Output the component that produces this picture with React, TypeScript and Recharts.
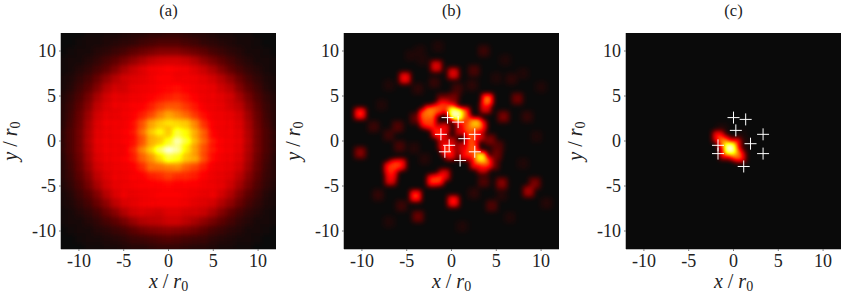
import { Scatter, ScatterChart, XAxis, YAxis } from "recharts";

const TICKS = [-10, -5, 0, 5, 10];
const GRID_X = [-12, -11, -10, -9, -8, -7, -6, -5, -4, -3, -2, -1, 0, 1, 2, 3, 4, 5, 6, 7, 8, 9, 10, 11, 12];
const GRID_Y = [...GRID_X].reverse();

// panel (a), percent of full scale, top row first
const AVERAGE_ROWS = [
  [0, 0, 0, 1, 1, 2, 2, 3, 4, 4, 5, 5, 6, 6, 5, 4, 4, 3, 2, 2, 1, 1, 0, 0, 0],
  [0, 0, 1, 2, 2, 3, 4, 5, 6, 8, 9, 10, 10, 10, 9, 8, 6, 5, 4, 3, 2, 2, 1, 0, 0],
  [0, 1, 2, 2, 4, 5, 7, 9, 12, 14, 16, 18, 18, 18, 16, 14, 12, 9, 7, 5, 4, 2, 2, 1, 0],
  [1, 2, 2, 4, 6, 9, 12, 16, 20, 24, 28, 30, 31, 31, 29, 25, 20, 16, 12, 9, 6, 4, 2, 2, 1],
  [1, 2, 4, 6, 9, 13, 18, 24, 29, 33, 36, 37, 38, 37, 36, 33, 29, 24, 18, 13, 9, 6, 4, 2, 1],
  [2, 3, 6, 9, 14, 20, 26, 31, 33, 34, 36, 38, 38, 36, 37, 36, 34, 31, 26, 20, 14, 9, 6, 3, 2],
  [2, 4, 8, 12, 18, 26, 31, 31, 35, 36, 37, 38, 39, 40, 38, 37, 36, 35, 30, 26, 18, 12, 8, 4, 2],
  [3, 6, 10, 16, 24, 31, 35, 34, 36, 37, 38, 40, 42, 44, 41, 38, 36, 36, 34, 31, 23, 16, 10, 6, 3],
  [4, 7, 12, 19, 28, 33, 36, 36, 38, 38, 42, 47, 50, 50, 46, 41, 37, 36, 35, 31, 27, 19, 12, 7, 4],
  [4, 8, 14, 22, 31, 35, 35, 37, 38, 42, 48, 56, 62, 58, 53, 46, 40, 37, 36, 35, 31, 22, 14, 8, 4],
  [4, 9, 15, 24, 33, 37, 37, 37, 40, 50, 62, 68, 72, 70, 68, 58, 45, 38, 37, 36, 33, 24, 15, 9, 4],
  [5, 10, 16, 25, 34, 36, 37, 38, 41, 54, 68, 76, 68, 82, 76, 64, 52, 39, 37, 37, 34, 25, 16, 10, 5],
  [5, 10, 16, 26, 35, 37, 37, 38, 40, 50, 64, 68, 78, 94, 82, 66, 54, 42, 38, 37, 35, 26, 16, 10, 5],
  [5, 10, 16, 25, 34, 37, 37, 37, 44, 58, 70, 86, 98, 92, 74, 62, 50, 42, 38, 37, 34, 25, 16, 10, 5],
  [4, 9, 15, 24, 33, 36, 37, 38, 42, 52, 60, 70, 82, 78, 68, 64, 50, 40, 37, 36, 33, 24, 15, 9, 4],
  [4, 8, 14, 22, 31, 35, 36, 37, 38, 44, 54, 54, 56, 58, 52, 48, 42, 37, 36, 35, 31, 22, 14, 8, 4],
  [4, 7, 12, 19, 28, 33, 36, 36, 38, 38, 42, 44, 47, 44, 44, 42, 38, 36, 35, 33, 27, 19, 12, 7, 4],
  [3, 6, 10, 16, 24, 31, 35, 36, 37, 38, 38, 38, 39, 38, 38, 38, 37, 36, 35, 30, 23, 16, 10, 6, 3],
  [2, 4, 8, 12, 18, 26, 32, 36, 35, 36, 37, 38, 38, 38, 37, 36, 35, 36, 31, 25, 18, 12, 8, 4, 2],
  [2, 3, 6, 9, 14, 20, 27, 32, 34, 36, 37, 37, 37, 37, 36, 34, 33, 31, 25, 20, 14, 9, 6, 3, 2],
  [1, 2, 4, 6, 9, 14, 19, 25, 30, 32, 31, 30, 33, 33, 31, 31, 29, 24, 18, 13, 9, 6, 4, 2, 1],
  [1, 2, 2, 4, 6, 9, 12, 16, 21, 25, 27, 28, 30, 30, 27, 24, 20, 16, 12, 9, 6, 4, 2, 2, 1],
  [0, 1, 2, 2, 4, 5, 7, 9, 12, 15, 17, 18, 19, 18, 17, 15, 12, 9, 7, 5, 4, 2, 2, 1, 0],
  [0, 0, 1, 2, 2, 3, 4, 5, 7, 8, 9, 10, 11, 10, 9, 8, 7, 5, 4, 3, 2, 2, 1, 0, 0],
  [0, 0, 0, 1, 1, 2, 2, 3, 4, 4, 5, 6, 6, 6, 5, 4, 4, 3, 2, 2, 1, 1, 0, 0, 0],
];

// panel (b) speckles: x, y, percent
const SPECKLE_CELLS = [
  [0.3, 3.1, 92], [0.6, 2.9, 92], [-2.4, 3.3, 56], [-3.0, 2.9, 50], [-1.5, 3.5, 48], [-0.9, 3.9, 42],
  [-0.1, 3.6, 44], [1.4, 3.1, 52], [1.0, 2.4, 34], [-2.3, 1.9, 44], [-1.6, 1.0, 42], [-1.0, 0.6, 32],
  [-2.9, 2.1, 44], [-2.3, 2.6, 48], [-0.8, 1.4, 34], [1.6, 2.3, 38], [-1.0, 4.6, 16], [0.2, 4.7, 16],
  [2.7, 1.95, 66], [1.95, 1.6, 50], [3.3, 1.7, 40], [2.2, 0.4, 48], [3.0, 0.6, 34], [1.0, 1.2, 30],
  [4, 4.6, 54], [3.8, 3.7, 32], [3.3, -1.8, 74], [3.9, -2.4, 46], [2.4, -0.8, 50], [2.2, -1.4, 42],
  [1.5, -1.5, 36], [2.7, -2.5, 38], [3.5, -3, 30], [-0.1, -1.5, 34], [-0.9, -0.4, 28],
  [1.3, -0.7, 30], [-0.5, -1, 44], [-0.1, -0.2, 30], [-10.2, 3.05, 42], [-5.2, 7, 36],
  [-1.7, 8.3, 32], [0.2, 7.5, 32], [3.6, 10, 7], [-6.3, -2.7, 46], [-6.9, -3, 42], [-6.8, -4.3, 32],
  [-5.7, -2.6, 38], [-6.7, -3.6, 38],
  [-10.2, -1.3, 18], [-1.5, -4.3, 46], [-2.1, -4.4, 44], [-0.8, -3.75, 32], [-4, -6.1, 44], [0.2, -6.7, 40],
  [-3.75, -8.4, 14], [4.5, -7.2, 10], [5.6, -4.7, 18], [8.6, -5.6, 22], [9.3, -4.7, 16], [3.6, -4.5, 10],
  [5.8, 2.7, 16], [7.35, 4.7, 14], [8.45, 2.7, 6], [6.7, 6.9, 5], [2.5, 7.8, 9], [0.65, 5.8, 8],
  [-4, 2.5, 12], [-6, 1.6, 10], [-8.7, 1.6, 7], [-7, 0.66, 7], [-5.8, -0.6, 9], [-8.2, -6, 6],
  [-5.6, -7.2, 7], [-1.9, 6.5, 6], [-3.75, 5.8, 5], [5, -1.5, 14], [4.7, -2.6, 14], [4.3, 0.1, 16],
  [5.2, -0.6, 10], [10.6, -6.9, 4], [2.3, 6.2, 5], [-7.8, 4, 3], [-4.5, 9.5, 3], [6, 9, 3], [-1.5, 10.5, 3],
  [1.2, -9.5, 3], [-7, -9, 3], [9.5, 0.5, 3], [10, 6, 3], [6.5, -8.5, 3], [8, -2.5, 3], [-3.5, 10, 3],
  [-3.2, 9, 3], [5, 7, 3], [8, 7.5, 3], [-7, 6.2, 3], [-3, -2, 4], [-4.2, -0.8, 4], [5.6, -6, 4], [2.5, -5.8, 5],
];

// panel (c) focus: x, y, percent
const FOCUS_CELLS = [
  [-0.39, -0.82, 96], [-1.1, -0.1, 55], [0.3, -1.5, 55], [-0.9, -1.4, 40], [0.2, -0.3, 40], [-1.7, 0.5, 38],
  [0.75, -1.75, 34], [-1.3, 1.3, 3], [1.2, -0.3, 3], [0.9, 0.6, 2],
];

const ATOMS_B = [
  [-0.44, 2.6], [0.74, 2.1], [-1.18, 0.74], [1.43, 0.26], [2.6, 0.74],
  [-0.26, -0.48], [-0.74, -1.2], [2.6, -1.2], [0.96, -2.17],
];
const ATOMS_C = [
  [0, 2.6], [1.36, 2.4], [0.26, 1.18], [-1.73, -0.48], [-1.73, -1.4],
  [1.9, -0.3], [3.3, 0.74], [3.3, -1.4], [1.14, -2.83],
];

const averageCells = AVERAGE_ROWS.flatMap((row, r) =>
  row.map((v, c) => ({ x: GRID_X[c], y: GRID_Y[r], v })),
);
const toCells = (list: number[][]) =>
  list.map(([x, y, v]) => ({ x, y, v })).sort((a, b) => a.v - b.v);
const toPoints = (list: number[][]) => list.map(([x, y]) => ({ x, y }));

const INK = "#222222";
const FRAME = "#777777";
const PLOT_LEFT = 61;
const PLOT_SIZE = 215;

const heatCell = (size: number) => (props: any) => {
  const g = Math.round((props.payload.v / 100) * 255);
  return (
    <rect
      x={props.cx - size / 2}
      y={props.cy - size / 2}
      width={size}
      height={size}
      fill={`rgb(${g},${g},${g})`}
    />
  );
};

function Cross(props: any) {
  const { cx, cy } = props;
  return (
    <g stroke="#ffffff" strokeWidth={1}>
      <line x1={cx - 6} y1={cy} x2={cx + 6} y2={cy} />
      <line x1={cx} y1={cy - 6} x2={cx} y2={cy + 6} />
    </g>
  );
}

type PanelProps = {
  left: number;
  title: string;
  cellSize: number;
  cells: { x: number; y: number; v: number }[];
  atoms?: { x: number; y: number }[];
};

function AxisName({ name }: { name: string }) {
  return (
    <>
      <tspan fontStyle="italic">{name}</tspan>
      <tspan dx={5}>/</tspan>
      <tspan dx={5} fontStyle="italic">r</tspan>
      <tspan fontSize={14} dy={3}>0</tspan>
    </>
  );
}

function Panel({ left, title, cellSize, cells, atoms }: PanelProps) {
  const mid = PLOT_LEFT + PLOT_SIZE / 2;
  const tick = { fontSize: 18, fill: INK };
  const shared = {
    type: "number" as const,
    domain: [-12, 12],
    ticks: TICKS,
    allowDataOverflow: true,
    stroke: FRAME,
    tickSize: 2,
  };
  return (
    <div style={{ position: "absolute", left, top: 0 }}>
      <ScatterChart width={280} height={294} margin={{ top: 33, right: 4, bottom: 0, left: 0 }}>
        <XAxis {...shared} dataKey="x" xAxisId="bottom" orientation="bottom" height={45} tick={tick} tickMargin={3} />
        <XAxis {...shared} dataKey="x" xAxisId="top" orientation="top" height={0} tickFormatter={() => ""} />
        <YAxis {...shared} dataKey="y" yAxisId="left" orientation="left" width={61} tick={tick} tickMargin={3} />
        <YAxis {...shared} dataKey="y" yAxisId="right" orientation="right" width={0} tickFormatter={() => ""} />
        <Scatter
          className="heat"
          data={cells}
          xAxisId="bottom"
          yAxisId="left"
          shape={heatCell(cellSize)}
          isAnimationActive={false}
        />
        {atoms && (
          <Scatter
            data={atoms}
            xAxisId="bottom"
            yAxisId="left"
            shape={Cross}
            isAnimationActive={false}
          />
        )}
        <text x={mid} y={16} textAnchor="middle" fontSize={16.5} fill={INK}>
          {title}
        </text>
        <text x={mid} y={288} textAnchor="middle" fontSize={20} fill={INK}>
          <AxisName name="x" />
        </text>
        <text transform="translate(17,141) rotate(-90)" textAnchor="middle" fontSize={20} fill={INK}>
          <AxisName name="y" />
        </text>
      </ScatterChart>
    </div>
  );
}

export default function App() {
  return (
    <div style={{ position: "absolute", left: 0, top: 0, width: 845, height: 294, background: "#ffffff" }}>
      <style>{`
        svg text, svg tspan { font-family: "Liberation Serif", "Times New Roman", serif; }
        .heat { filter: url(#hot); clip-path: url(#plot-area); }
      `}</style>
      <svg width={0} height={0} style={{ position: "absolute" }}>
        <defs>
          <clipPath id="plot-area">
            <rect x={PLOT_LEFT} y={33} width={PLOT_SIZE} height={216} />
          </clipPath>
          <filter
            id="hot"
            filterUnits="userSpaceOnUse"
            x={0}
            y={0}
            width={300}
            height={294}
            colorInterpolationFilters="sRGB"
          >
            <feFlood floodColor="#000000" result="ground" />
            <feMerge result="merged">
              <feMergeNode in="ground" />
              <feMergeNode in="SourceGraphic" />
            </feMerge>
            <feGaussianBlur in="merged" stdDeviation={2.6} />
            <feComponentTransfer>
              <feFuncR type="table" tableValues="0.04 0.37 0.7 1 1 1 1 1 1" />
              <feFuncG type="table" tableValues="0.04 0 0 0 0.33 0.67 1 1 1" />
              <feFuncB type="table" tableValues="0.04 0 0 0 0 0 0 0.5 1" />
            </feComponentTransfer>
          </filter>
        </defs>
      </svg>
      <Panel left={0} title="(a)" cellSize={9} cells={averageCells} />
      <Panel left={283} title="(b)" cellSize={11} cells={toCells(SPECKLE_CELLS)} atoms={toPoints(ATOMS_B)} />
      <Panel left={565} title="(c)" cellSize={11} cells={toCells(FOCUS_CELLS)} atoms={toPoints(ATOMS_C)} />
    </div>
  );
}
